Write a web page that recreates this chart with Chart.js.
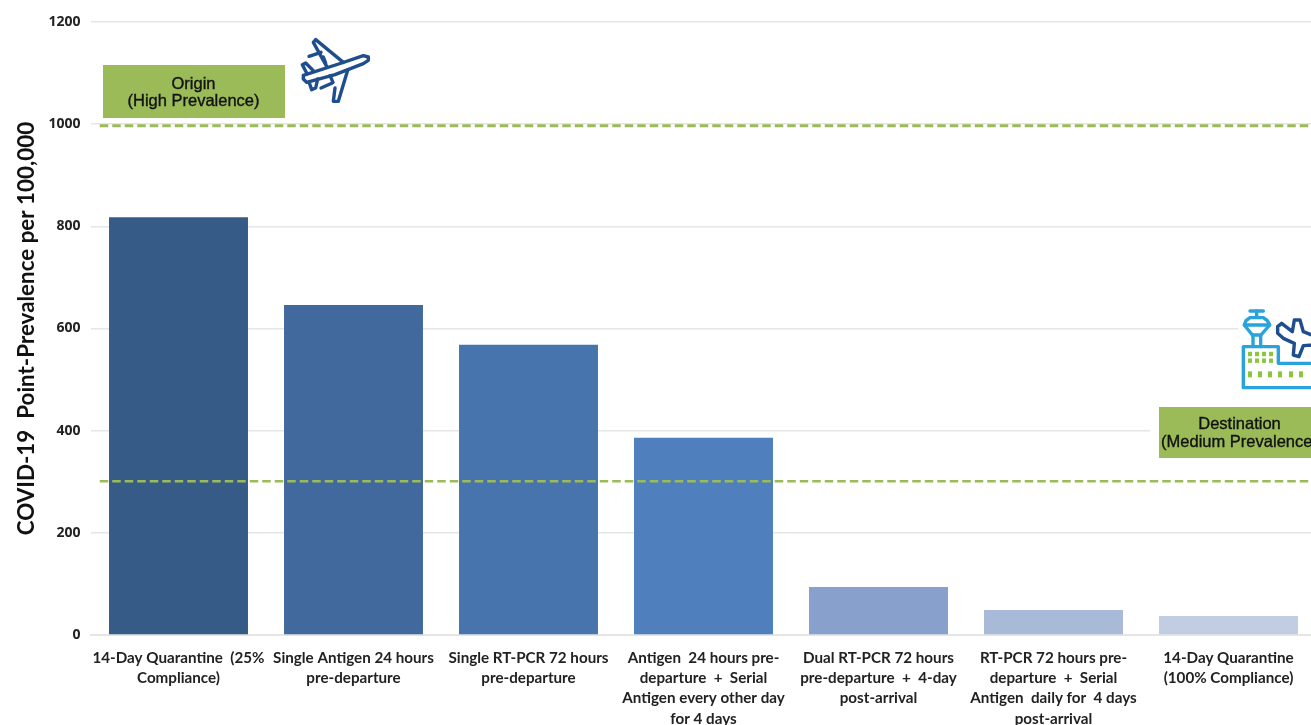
<!DOCTYPE html>
<html><head><meta charset="utf-8">
<style>html,body{margin:0;padding:0;background:#fff;overflow:hidden;width:1311px;height:725px}canvas{display:block}</style>
<script src="https://cdn.jsdelivr.net/npm/chart.js@4"></script>
</head><body><canvas id="c" width="1316" height="725"></canvas>
<script>
const categories = [
  ["14-Day Quarantine  (25%","Compliance)"],
  ["Single Antigen 24 hours","pre-departure"],
  ["Single RT-PCR 72 hours","pre-departure"],
  ["Antigen  24 hours pre-","departure  +  Serial","Antigen every other day","for 4 days"],
  ["Dual RT-PCR 72 hours","pre-departure  +  4-day","post-arrival"],
  ["RT-PCR 72 hours pre-","departure  +  Serial","Antigen  daily for  4 days","post-arrival"],
  ["14-Day Quarantine","(100% Compliance)"]
];
const prevalence = [818, 646, 568, 386, 94, 49, 37];
const barColors = ["#365B87","#41699D","#4874AD","#4F80BD","#87A1CC","#A9B9D8","#C1CDE3"];
const originLevel = 997;
const destinationLevel = 301;
const levelStart = -0.45;
const levelEnd = 6.5;
const yTitle = "COVID-19  Point-Prevalence per 100,000";
const originLabel = ["Origin","(High Prevalence)"];
const destinationLabel = ["Destination","(Medium Prevalence)"];
const GREEN = "#9BBB59", NAVY = "#1F4E8C", SKY = "#29A3DC", DOT = "#8CC63F";

function poly(ctx, pts, close){
  ctx.beginPath();
  pts.forEach((p,i)=> i?ctx.lineTo(p[0],p[1]):ctx.moveTo(p[0],p[1]));
  if(close) ctx.closePath();
  ctx.stroke();
}
function box(ctx,x,y,w,h,lines,cx,ly){
  ctx.fillStyle=GREEN; ctx.fillRect(x,y,w,h);
  ctx.fillStyle="#111"; ctx.font='16.5px "Liberation Sans"';
  ctx.textAlign="center"; ctx.textBaseline="middle";
  lines.forEach((t,i)=>{
    ctx.lineWidth=0.35; ctx.strokeStyle="#111";
    ctx.fillText(t,cx,ly[i]); ctx.strokeText(t,cx,ly[i]);
  });
}
function planeIcon(ctx){
  ctx.save();
  ctx.strokeStyle=NAVY; ctx.lineWidth=3.4; ctx.lineJoin="round"; ctx.lineCap="round";
  const z=p=>[295+p[0]/3,33+p[1]/3];
  poly(ctx,[[25,127],[140,90],[205,68],[220,72],[220,82],[205,92],[120,125],[35,148],[25,138]].map(z),true);
  poly(ctx,[[145,88],[62,20],[55,28],[95,100]].map(z));
  poly(ctx,[[158,112],[130,205],[115,205],[120,165]].map(z));
  poly(ctx,[[55,113],[32,90],[22,95],[35,120]].map(z));
  poly(ctx,[[42,147],[50,170],[62,165],[68,138]].map(z));
  poly(ctx,[[42,70],[78,58]].map(z));
  poly(ctx,[[78,165],[112,150]].map(z));
  poly(ctx,[[85,72],[92,90]].map(z));
  poly(ctx,[[105,128],[114,148]].map(z));
  ctx.restore();
}
function airportIcon(ctx){
  ctx.save();
  const z=p=>[1235+p[0]/3,305+p[1]/3];
  ctx.fillStyle="#fff"; ctx.fillRect(1238,306,80,86);
  ctx.strokeStyle=SKY; ctx.lineWidth=3.4; ctx.lineJoin="round"; ctx.lineCap="round";
  poly(ctx,[[45,18],[85,18]].map(z));
  poly(ctx,[[65,18],[65,36]].map(z));
  poly(ctx,[[28,60],[33,47],[45,38],[85,38],[97,47],[104,60],[78,90],[52,90]].map(z),true);
  poly(ctx,[[28,60],[104,60]].map(z));
  poly(ctx,[[54,90],[54,125]].map(z));
  poly(ctx,[[77,90],[77,125]].map(z));
  poly(ctx,[[250,248],[25,248],[25,125],[130,125],[130,175],[250,175]].map(z));
  ctx.fillStyle=DOT;
  [45,66,87,108].forEach(x=>[147,167].forEach(y=>{const p=z([x,y]);ctx.fillRect(p[0]-2,p[1]-2.2,4,4.4);}));
  [45,75,105,135,168,198].forEach(x=>{const p=z([x,208]);ctx.fillRect(p[0]-2,p[1]-3,4,6);});
  ctx.strokeStyle=NAVY;
  ctx.fillStyle="#fff";
  const pl=[[128,65],[140,55],[172,80],[178,45],[195,45],[205,80],[235,92],[250,105],[235,120],[205,122],[192,155],[175,150],[178,115],[145,100],[128,85]].map(z);
  ctx.beginPath(); pl.forEach((p,i)=>i?ctx.lineTo(p[0],p[1]):ctx.moveTo(p[0],p[1])); ctx.closePath(); ctx.fill(); ctx.stroke();
  ctx.restore();
}
const levels = {
  id:"levels",
  afterDatasetsDraw(chart){
    const ctx=chart.ctx,x=chart.scales.x,y=chart.scales.y;
    ctx.save();
    ctx.strokeStyle=GREEN; ctx.setLineDash([8.5,4]);
    [[originLevel,3],[destinationLevel,2.6]].forEach(([v,w])=>{
      ctx.lineWidth=w;
      ctx.beginPath();
      ctx.moveTo(x.getPixelForValue(levelStart),y.getPixelForValue(v));
      ctx.lineTo(x.getPixelForValue(levelEnd),y.getPixelForValue(v));
      ctx.stroke();
    });
    ctx.restore();
  }
};
const overlay = {
  id:"overlay",
  afterDraw(chart){
    const ctx=chart.ctx;
    ctx.save();
    ctx.fillStyle="#fff"; ctx.fillRect(1150,403,170,59);
    box(ctx,103,65,182,53,originLabel,193.5,[84,101.5]);
    box(ctx,1159,407,170,51,destinationLabel,1239.5,[424,442]);
    planeIcon(ctx);
    airportIcon(ctx);
    ctx.restore();
  }
};
new Chart(document.getElementById("c"),{
  type:"bar",
  data:{
    labels:categories,
    datasets:[
      {data:prevalence,backgroundColor:barColors,barPercentage:0.794,categoryPercentage:1}
    ]
  },
  options:{
    responsive:false,animation:false,devicePixelRatio:1,
    layout:{padding:{top:22,right:0,left:0,bottom:0}},
    plugins:{legend:{display:false},tooltip:{enabled:false}},
    scales:{
      x:{
        grid:{display:false},border:{color:"#e5e5e5",width:2},
        afterFit(s){s.height=90;},
        ticks:{autoSkip:false,maxRotation:0,minRotation:0,padding:5,color:"#222",font:{family:"Lato",weight:"bold",size:15.2,lineHeight:1.33}}
      },
      y:{
        min:0,max:1200,
        afterFit(s){s.width=91;},
        grid:{color:"#e6e6e6",lineWidth:1.5,drawTicks:false},border:{display:false},
        ticks:{stepSize:200,padding:10.5,color:"#222",font:{family:"Open Sans",weight:"bold",size:14},callback:v=>String(v)},
        title:{display:true,text:yTitle,color:"#111",padding:{top:13,bottom:0},font:{family:"Lato",weight:"bold",size:22.4}}
      }
    }
  },
  plugins:[levels,overlay]
});
</script></body></html>
